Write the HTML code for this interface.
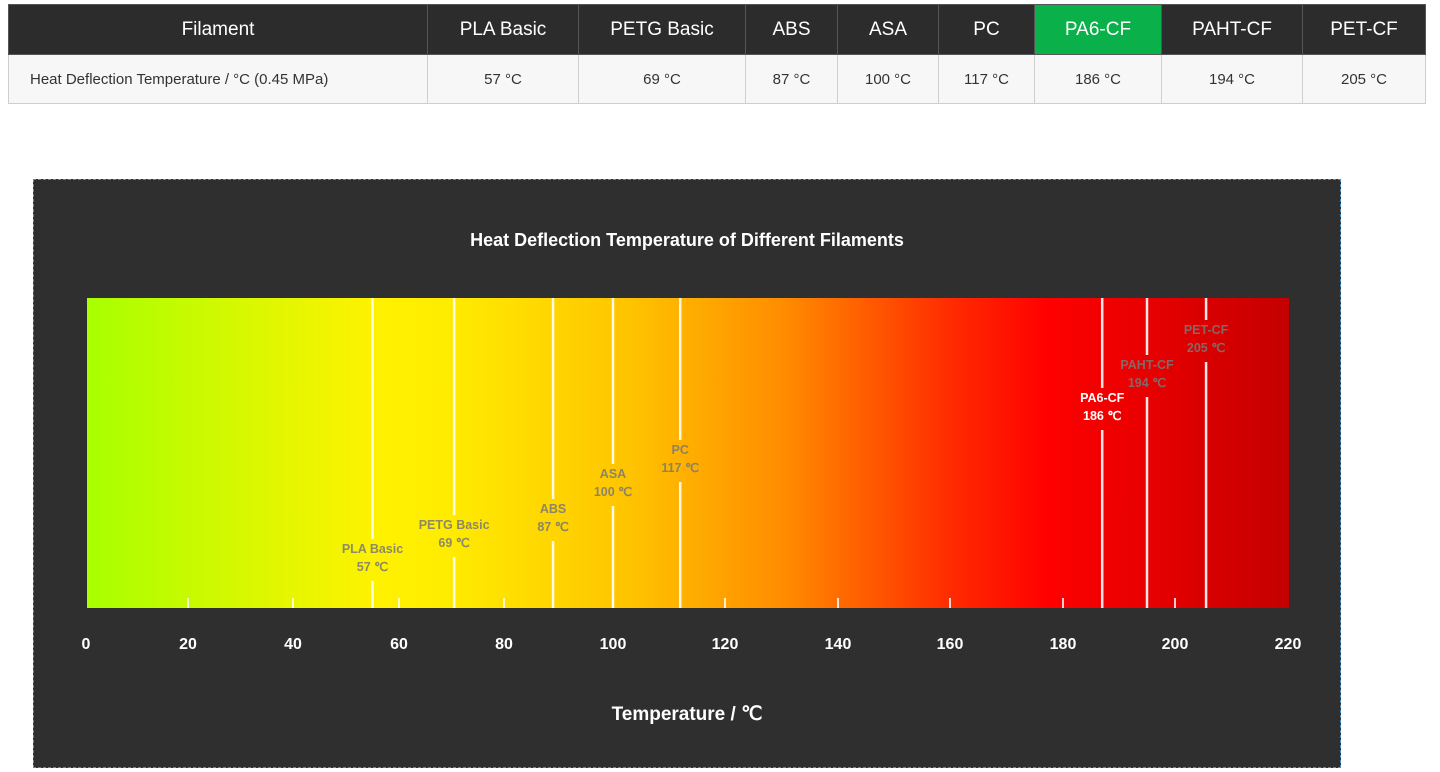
<!DOCTYPE html>
<html><head><meta charset="utf-8">
<style>
body{margin:0;width:1440px;height:772px;background:#fff;font-family:"Liberation Sans",sans-serif;overflow:hidden;position:relative}
table{position:absolute;left:8px;top:4px;border-collapse:collapse;width:1418px}
td,th{border:1px solid #cfcfcf;text-align:center;padding:0}
th{background:#2c2c2c;color:#fff;font-weight:normal;font-size:19px;height:49px;border-color:#555}
th.hl{background:#0ab04a}
td{background:#f7f7f7;color:#333;font-size:15px;height:48px}
td.first{text-align:left;padding-left:21px}
#chart{position:absolute;left:33px;top:179px;width:1306px;height:587px;background:#2f2f2f;border:1px dashed #4a90c8}
</style></head><body>
<table>
<tr>
<th style="width:418px">Filament</th>
<th style="width:150px">PLA Basic</th>
<th style="width:166px">PETG Basic</th>
<th style="width:91px">ABS</th>
<th style="width:100px">ASA</th>
<th style="width:95px">PC</th>
<th class="hl" style="width:126px">PA6-CF</th>
<th style="width:140px">PAHT-CF</th>
<th>PET-CF</th>
</tr>
<tr>
<td class="first">Heat Deflection Temperature / °C (0.45 MPa)</td>
<td>57 °C</td>
<td>69 °C</td>
<td>87 °C</td>
<td>100 °C</td>
<td>117 °C</td>
<td>186 °C</td>
<td>194 °C</td>
<td>205 °C</td>
</tr>
</table>
<div id="chart">
<svg id="svg" width="1306" height="587" xmlns="http://www.w3.org/2000/svg">
<defs><linearGradient id="g" x1="0" x2="1" y1="0" y2="0">
<stop offset="0" stop-color="#a8ff00"/>
<stop offset="0.24" stop-color="#fff200"/>
<stop offset="0.3" stop-color="#ffec00"/>
<stop offset="0.45" stop-color="#ffc400"/>
<stop offset="0.58" stop-color="#ff8c00"/>
<stop offset="0.72" stop-color="#ff2a00"/>
<stop offset="0.8" stop-color="#ff0000"/>
<stop offset="1" stop-color="#c40000"/>
</linearGradient></defs>
<text x="653" y="66" fill="#fff" font-size="18" font-weight="bold" text-anchor="middle">Heat Deflection Temperature of Different Filaments</text>
<rect x="53" y="118" width="1202" height="310" fill="url(#g)"/>
<text x="653" y="540" fill="#fff" font-size="19" font-weight="bold" text-anchor="middle">Temperature / ℃</text>
</svg>
</div>
<script>
const tickValues=[0,20,40,60,80,100,120,140,160,180,200,220];
const names=["PLA Basic","PETG Basic","ABS","ASA","PC","PA6-CF","PAHT-CF","PET-CF"];
const hdtValues=[57,69,87,100,117,186,194,205];
const markerValues=[55,70.5,89,100,112,187,195,205.5];
// axis (piecewise scale as drawn in the reference)
const domainStops=[0,20,40,60,80,100,120,140,160,180,200,220];
const rangeStops=[52,154,259,365,470,579,691,804,916,1029,1141,1254];
function x(v){for(let i=0;i<domainStops.length-1;i++){if(v<=domainStops[i+1]||i==domainStops.length-2){const t=(v-domainStops[i])/(domainStops[i+1]-domainStops[i]);return rangeStops[i]+t*(rangeStops[i+1]-rangeStops[i]);}}}
const labelTop=[373,349,333,298,274,222,189,154];
const NS="http://www.w3.org/2000/svg";
const svg=document.getElementById('svg');
function mk(t,a){const e=document.createElementNS(NS,t);for(const k in a)e.setAttribute(k,a[k]);svg.appendChild(e);return e;}
tickValues.forEach(v=>{
 if(v>0&&v<220){const t=mk('line',{x1:x(v),x2:x(v),y1:418,y2:428,stroke:'#fff','stroke-width':2,opacity:0.8});
 
 }
 const l=mk('text',{x:x(v),y:469,fill:'#fff','font-size':16,'font-weight':'bold','text-anchor':'middle'});
 l.textContent=v;
 
 
});
names.forEach((n,i)=>{
 const px=x(markerValues[i]);const ly=labelTop[i];
 const a=mk('line',{x1:px,x2:px,y1:118,y2:ly-14,stroke:'#fff','stroke-width':2.5,opacity:0.9});
 
 
 const b=mk('line',{x1:px,x2:px,y1:ly+28,y2:428,stroke:'#fff','stroke-width':2.5,opacity:0.9});
 
 
 const col=n==="PA6-CF"?'#fff':'rgba(120,120,120,0.85)';
 const t1=mk('text',{x:px,y:ly,fill:col,'font-size':12.5,'font-weight':'bold','text-anchor':'middle'});
 t1.textContent=n;
 
 
 const t2=mk('text',{x:px,y:ly+18,fill:col,'font-size':12.5,'font-weight':'bold','text-anchor':'middle'});
 t2.textContent=hdtValues[i]+' ℃';
 
 
});
</script>
</body></html>
